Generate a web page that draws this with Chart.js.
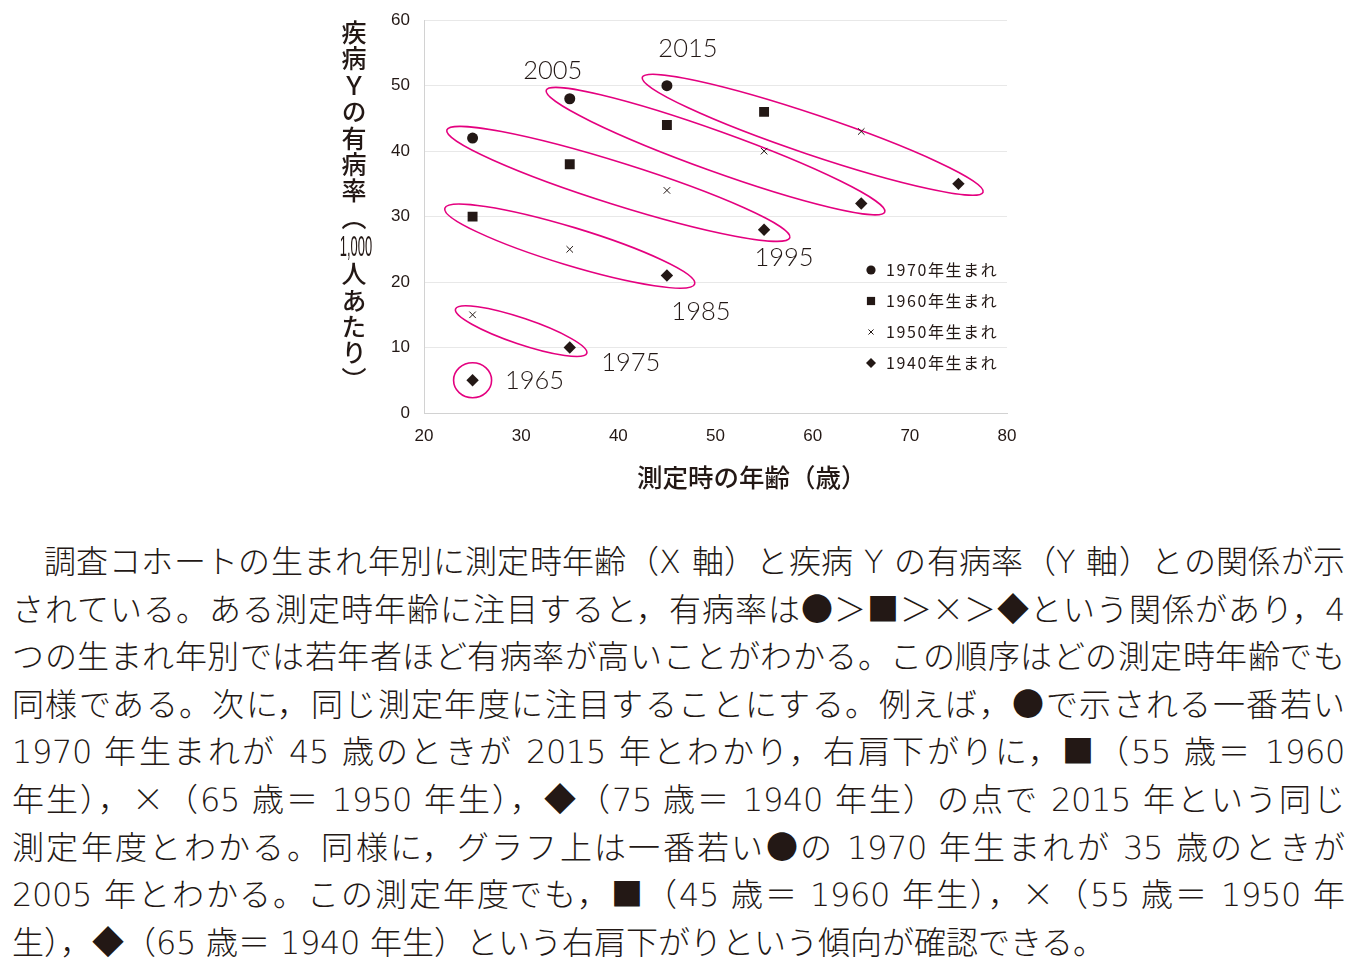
<!DOCTYPE html>
<html lang="ja">
<head>
<meta charset="utf-8">
<title>疾病Yの有病率</title>
<script src="https://cdn.jsdelivr.net/npm/chart.js@4/dist/chart.umd.min.js"></script>
<style>
  @font-face { font-family: 'NoteLatin'; src: local('DejaVu Sans ExtraLight'), local('DejaVuSans-ExtraLight'); unicode-range: U+0020-007E; }
  @font-face { font-family: 'NoteLatin2'; src: local('DejaVu Sans'), local('DejaVuSans'); unicode-range: U+0020-007E; }
  @font-face { font-family: 'NoteJP'; src: local('Noto Sans CJK JP Light'), local('NotoSansCJKjp-Light'), local('Noto Sans CJK JP DemiLight'), local('NotoSansCJKjp-DemiLight'); }
  html, body { margin: 0; padding: 0; background: #fff; }
  body { width: 1358px; height: 972px; position: relative; overflow: hidden; color: #231815; font-family: 'Noto Sans CJK JP', sans-serif; }
  #chartBox { position: absolute; left: 330px; top: -4px; width: 700px; height: 464px; }
  #yTitle { position: absolute; left: 341px; top: 20px; writing-mode: vertical-rl; font-size: 25px; font-weight: 500; line-height: 26px; letter-spacing: 1.4px; white-space: nowrap; }
  #yTitle .tcy { display: inline-block; writing-mode: horizontal-tb; width: 26px; height: 30px; line-height: 30px; vertical-align: middle; }
  #yTitle .tcy span { display: block; width: 76px; margin-left: -30px; text-align: center; letter-spacing: 0; font-family: 'Liberation Sans', sans-serif; font-size: 30px; transform: scaleX(0.43); }
  #xTitle { position: absolute; left: 637px; top: 463px; font-size: 25.5px; font-weight: 500; line-height: 25px; white-space: nowrap; }
  #note { position: absolute; left: 12px; top: 539px; width: 1333px; font-family: 'NoteLatin', 'NoteLatin2', 'NoteJP', 'Noto Sans CJK JP', sans-serif; font-size: 32px; line-height: 47.6px; }
  #note div { text-align: justify; text-align-last: justify; white-space: nowrap; }
  #note div.first { text-indent: 1em; }
  #note div.last { text-align-last: left; }
</style>
</head>
<body>
<div id="chartBox"><canvas id="cohortChart"></canvas></div>
<div id="yTitle">疾病Ｙの有病率（<span class="tcy"><span>1,000</span></span>人あたり）</div>
<div id="xTitle">測定時の年齢（歳）</div>
<div id="note">
  <div class="first">調査コホートの生まれ年別に測定時年齢（X 軸）と疾病 Y の有病率（Y 軸）との関係が示</div>
  <div>されている。ある測定時年齢に注目すると，有病率は●＞■＞×＞◆という関係があり，4</div>
  <div>つの生まれ年別では若年者ほど有病率が高いことがわかる。この順序はどの測定時年齢でも</div>
  <div>同様である。次に，同じ測定年度に注目することにする。例えば，●で示される一番若い</div>
  <div>1970 年生まれが 45 歳のときが 2015 年とわかり，右肩下がりに，■（55 歳＝ 1960</div>
  <div>年生），×（65 歳＝ 1950 年生），◆（75 歳＝ 1940 年生）の点で 2015 年という同じ</div>
  <div>測定年度とわかる。同様に，グラフ上は一番若い●の 1970 年生まれが 35 歳のときが</div>
  <div>2005 年とわかる。この測定年度でも，■（45 歳＝ 1960 年生），×（55 歳＝ 1950 年</div>
  <div class="last">生），◆（65 歳＝ 1940 年生）という右肩下がりという傾向が確認できる。</div>
</div>
<script>
// data
const ages = [25, 35, 45, 55, 65, 75];
const cohorts = [1970, 1960, 1950, 1940];
const cohortLabels = ['1970年生まれ', '1960年生まれ', '1950年生まれ', '1940年生まれ'];
const rate1970 = [42, 48, 50];
const rate1960 = [30, 38, 44, 46];
const rate1950 = [15, 25, 34, 40, 43];
const rate1940 = [5, 10, 21, 28, 32, 35];
const xTicks = [20, 30, 40, 50, 60, 70, 80];
const yTicks = [0, 10, 20, 30, 40, 50, 60];

const INK = '#231815';
const MAGENTA = '#e4007f';

const rates = [rate1970, rate1960, rate1950, rate1940];
const markers = [
  { style: 'circle', r: 5.5, legendR: 4.6, bw: 0 },
  { style: 'rect', r: 7, legendR: 5.8, bw: 0 },
  { style: 'crossRot', r: 4.6, legendR: 3.6, bw: 1 },
  { style: 'rectRot', r: 6.2, legendR: 5, bw: 0 }
];

// ring size per measurement year (px)
const ringStyle = {
  2015: { pad: 26, half: 20 },
  2005: { pad: 25, half: 20 },
  1995: { pad: 27, half: 21 },
  1985: { pad: 29, half: 19 },
  1975: { pad: 18, half: 13 },
  1965: { rx: 19, ry: 17.5 }
};
// where each year label sits, offset from an end of its ring
const yearLabelPos = {
  2015: { from: 'first', dx: 21, dy: -37 },
  2005: { from: 'first', dx: -17, dy: -28 },
  1995: { from: 'last', dx: 20, dy: 28 },
  1985: { from: 'last', dx: 34, dy: 36 },
  1975: { from: 'last', dx: 61, dy: 15 },
  1965: { from: 'last', dx: 62, dy: 1 }
};

Chart.defaults.font.family = "'Liberation Sans', Arial, sans-serif";
Chart.defaults.color = INK;

// points sharing the same measurement year (birth year + age)
function yearGroups(chart) {
  const { x, y } = chart.scales;
  const groups = {};
  chart.data.datasets.forEach((ds, d) => {
    ds.data.forEach(p => {
      const year = cohorts[d] + p.x;
      (groups[year] = groups[year] || []).push({
        age: p.x,
        px: x.getPixelForValue(p.x),
        py: y.getPixelForValue(p.y)
      });
    });
  });
  Object.values(groups).forEach(g => g.sort((a, b) => a.age - b.age));
  return groups;
}

const cohortRings = {
  id: 'cohortRings',
  beforeDatasetsDraw(chart) {
    const ctx = chart.ctx;
    const groups = yearGroups(chart);
    ctx.save();
    ctx.strokeStyle = MAGENTA;
    ctx.lineWidth = 1.6;
    Object.keys(groups).forEach(year => {
      const g = groups[year];
      const st = ringStyle[year];
      const a = g[0], b = g[g.length - 1];
      ctx.beginPath();
      if (g.length === 1) {
        ctx.ellipse(a.px, a.py, st.rx, st.ry, 0, 0, Math.PI * 2);
      } else {
        const cx = (a.px + b.px) / 2, cy = (a.py + b.py) / 2;
        const len = Math.hypot(b.px - a.px, b.py - a.py) / 2;
        const ang = Math.atan2(b.py - a.py, b.px - a.px);
        ctx.ellipse(cx, cy, len + st.pad, st.half, ang, 0, Math.PI * 2);
      }
      ctx.stroke();
    });
    ctx.restore();
  },
  afterDatasetsDraw(chart) {
    const ctx = chart.ctx;
    const groups = yearGroups(chart);
    ctx.save();
    ctx.fillStyle = INK;
    ctx.font = "300 25.5px Lato, 'Liberation Sans', sans-serif";
    ctx.textAlign = 'center';
    ctx.textBaseline = 'middle';
    Object.keys(groups).forEach(year => {
      const g = groups[year];
      const pos = yearLabelPos[year];
      const p = pos.from === 'first' ? g[0] : g[g.length - 1];
      ctx.fillText(String(year), p.px + pos.dx, p.py + pos.dy);
    });
    ctx.restore();
  }
};

// legend drawn inside the plot, lower right
const innerLegend = {
  id: 'innerLegend',
  afterDraw(chart) {
    const { ctx, chartArea } = chart;
    const mx = chartArea.right - 136;
    const tx = chartArea.right - 121;
    const y0 = chartArea.bottom - 143;
    ctx.save();
    ctx.font = "16px 'Noto Sans CJK JP', sans-serif";
    if ('letterSpacing' in ctx) ctx.letterSpacing = '1.6px';
    ctx.textBaseline = 'middle';
    ctx.textAlign = 'left';
    chart.data.datasets.forEach((ds, i) => {
      const m = markers[i];
      const yy = y0 + i * 31;
      ctx.fillStyle = INK;
      ctx.strokeStyle = INK;
      ctx.lineWidth = m.bw;
      if (Chart.helpers && Chart.helpers.drawPoint) {
        Chart.helpers.drawPoint(ctx, { pointStyle: m.style, radius: m.legendR, borderWidth: m.bw, rotation: 0 }, mx, yy);
      }
      ctx.fillText(ds.label, tx, yy);
    });
    ctx.restore();
  }
};

const ctx = document.getElementById('cohortChart').getContext('2d');
const cohortChart = new Chart(ctx, {
  type: 'scatter',
  data: {
    datasets: rates.map((vals, i) => ({
      label: cohortLabels[i],
      data: vals.map((v, j) => ({ x: ages[j], y: v })),
      pointStyle: markers[i].style,
      pointRadius: markers[i].r,
      pointHoverRadius: markers[i].r,
      pointBackgroundColor: INK,
      pointBorderColor: INK,
      pointBorderWidth: markers[i].bw
    }))
  },
  options: {
    responsive: true,
    maintainAspectRatio: false,
    animation: false,
    layout: { padding: { top: 16, right: 23, bottom: 0, left: 0 } },
    scales: {
      x: {
        type: 'linear',
        min: 20,
        max: 80,
        afterBuildTicks(scale) { scale.ticks = xTicks.map(v => ({ value: v })); },
        afterFit(scale) { scale.height = 47; },
        grid: { display: false, drawTicks: false },
        border: { color: '#d2d2d2', width: 1 },
        ticks: { padding: 13, font: { size: 17 } }
      },
      y: {
        type: 'linear',
        min: 0,
        max: 60,
        afterBuildTicks(scale) { scale.ticks = yTicks.map(v => ({ value: v })); },
        afterFit(scale) { scale.width = 94; },
        grid: { color: '#e8e8e8', lineWidth: 1, drawTicks: false },
        border: { color: '#d2d2d2', width: 1 },
        ticks: { padding: 14, font: { size: 17 } }
      }
    },
    plugins: {
      legend: { display: false },
      tooltip: { enabled: false }
    }
  },
  plugins: [cohortRings, innerLegend]
});
</script>
</body>
</html>
